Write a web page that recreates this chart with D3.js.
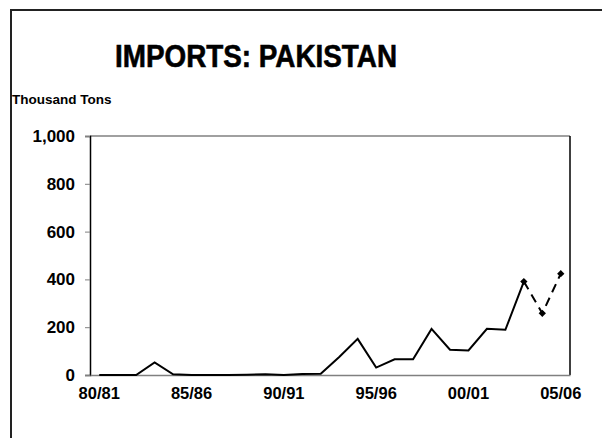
<!DOCTYPE html>
<html>
<head>
<meta charset="utf-8">
<script src="https://cdn.jsdelivr.net/npm/d3@7"></script>
<style>
  body { margin: 0; background: #fff; }
  svg { display: block; font-family: "Liberation Sans", Arial, sans-serif; }
</style>
</head>
<body>
<svg id="chart" width="602" height="438"></svg>
<script>
const years = [
  "80/81", "81/82", "82/83", "83/84", "84/85", "85/86", "86/87", "87/88", "88/89", "89/90",
  "90/91", "91/92", "92/93", "93/94", "94/95", "95/96", "96/97", "97/98", "98/99", "99/00",
  "00/01", "01/02", "02/03", "03/04", "04/05", "05/06"
];
// thousand tons, actual through 03/04
const actual = [
  0, 0, 0, 53, 3, 0, 0, 0, 1, 3,
  0, 4, 5, 75, 151, 31, 66, 66, 193, 106,
  103, 193, 189, 391
];
// estimate / projection, dashed
const projYears = ["03/04", "04/05", "05/06"];
const projValues = [391, 258, 424];
const tickLabels = ["80/81", "85/86", "90/91", "95/96", "00/01", "05/06"];
const yTicks = [0, 200, 400, 600, 800, 1000];

const svg = d3.select("#chart");
const plot = { left: 90, right: 570, top: 136, bottom: 375 };

// outer frame, runs off the right and bottom edges
svg.append("rect")
  .attr("x", 11).attr("y", 10)
  .attr("width", 620).attr("height", 460)
  .attr("fill", "none")
  .attr("stroke", "#222")
  .attr("stroke-width", 2);

svg.append("text")
  .attr("x", 256).attr("y", 67)
  .attr("text-anchor", "middle")
  .attr("font-size", 31)
  .attr("font-weight", "bold")
  .attr("stroke", "#000")
  .attr("stroke-width", 0.6)
  .attr("textLength", 282)
  .attr("lengthAdjust", "spacingAndGlyphs")
  .text("IMPORTS: PAKISTAN");

svg.append("text")
  .attr("x", 12).attr("y", 104)
  .attr("font-size", 13.5)
  .attr("font-weight", "bold")
  .text("Thousand Tons");

const x = d3.scaleBand()
  .domain(years)
  .range([plot.left, plot.right]);
const xc = d => x(d) + x.bandwidth() / 2;

const y = d3.scaleLinear()
  .domain([0, 1000])
  .range([plot.bottom, plot.top]);

// plot box: top gray, right black
svg.append("line")
  .attr("x1", plot.left).attr("x2", plot.right)
  .attr("y1", plot.top).attr("y2", plot.top)
  .attr("stroke", "#808080").attr("stroke-width", 1.5);
svg.append("line")
  .attr("x1", plot.right).attr("x2", plot.right)
  .attr("y1", plot.top).attr("y2", plot.bottom)
  .attr("stroke", "#000").attr("stroke-width", 1.5);

const yAxis = svg.append("g")
  .attr("transform", `translate(${plot.left},0)`)
  .call(d3.axisLeft(y).tickValues(yTicks).tickSize(5).tickPadding(10)
    .tickFormat(d3.format(",")));
yAxis.select(".domain").attr("stroke", "#000").attr("stroke-width", 1.5);
yAxis.selectAll(".tick line").attr("stroke", "#808080");
yAxis.selectAll("text")
  .attr("font-size", 17)
  .attr("font-weight", "bold")
  .attr("font-family", "Liberation Sans, Arial, sans-serif")
  .attr("fill", "#000");

const xAxis = svg.append("g")
  .attr("transform", `translate(0,${plot.bottom})`)
  .call(d3.axisBottom(x).tickValues(tickLabels).tickSize(0).tickPadding(12));
xAxis.select(".domain").attr("stroke", "#808080").attr("stroke-width", 1.5);
xAxis.selectAll("text")
  .attr("font-size", 16.5)
  .attr("font-weight", "bold")
  .attr("font-family", "Liberation Sans, Arial, sans-serif")
  .attr("fill", "#000");

const line = d3.line()
  .x(d => xc(d[0]))
  .y(d => y(d[1]));

svg.append("path")
  .datum(actual.map((v, i) => [years[i], v]))
  .attr("d", line)
  .attr("fill", "none")
  .attr("stroke", "#000")
  .attr("stroke-width", 2);

svg.append("path")
  .datum(projValues.map((v, i) => [projYears[i], v]))
  .attr("d", line)
  .attr("fill", "none")
  .attr("stroke", "#000")
  .attr("stroke-width", 2)
  .attr("stroke-dasharray", "9,6");

svg.selectAll(".marker")
  .data(projValues.map((v, i) => [projYears[i], v]))
  .join("path")
  .attr("class", "marker")
  .attr("transform", d => `translate(${xc(d[0])},${y(d[1])})`)
  .attr("d", d3.symbol(d3.symbolDiamond2, 34))
  .attr("fill", "#000");
</script>
</body>
</html>
